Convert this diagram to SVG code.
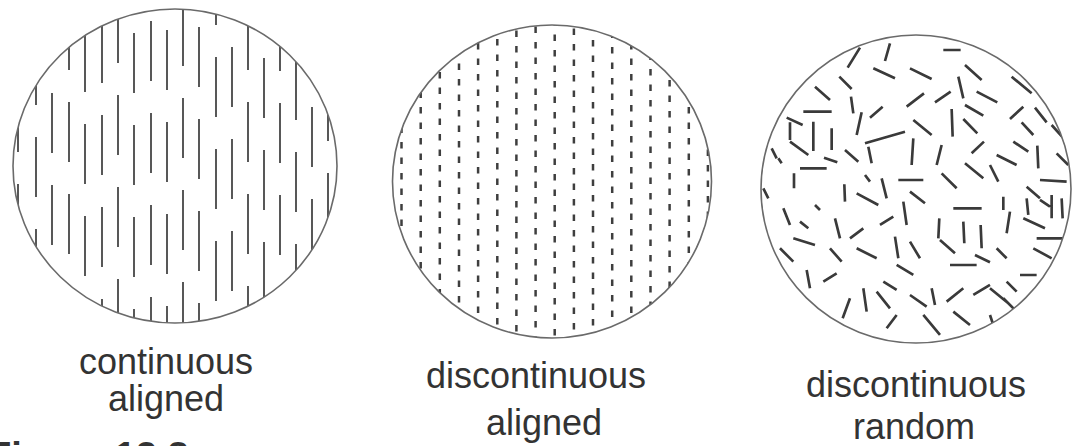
<svg xmlns="http://www.w3.org/2000/svg" width="1072" height="446" viewBox="0 0 1072 446">
<style>
.rim{fill:none;stroke:#6a6a6a;stroke-width:1.6}
.cont{fill:none;stroke:#3a3a3a;stroke-width:1.7}
.dash{fill:none;stroke:#3e3e3e;stroke-width:2.5;stroke-dasharray:6.5 9}
.rnd{fill:none;stroke:#3a3a3a;stroke-width:8;stroke-linecap:butt}
.lbl{font-family:"Liberation Sans",Arial,sans-serif;font-size:36px;fill:#333;text-anchor:middle}
.cap{font-family:"Liberation Sans",Arial,sans-serif;font-size:38px;font-weight:bold;fill:#333}
</style>
<defs>
<clipPath id="c1"><ellipse cx="175" cy="166" rx="162" ry="157"/></clipPath>
<clipPath id="c2"><ellipse cx="552" cy="181.5" rx="159.5" ry="156.5"/></clipPath>
<clipPath id="c3"><ellipse cx="916" cy="189" rx="155" ry="154"/></clipPath>
</defs>
<rect width="1072" height="446" fill="#fff"/>

<g id="continuous-aligned">
<g clip-path="url(#c1)">
<path class="cont" d="M18 0V60M18 92V152M18 184V244M18 276V336
M36 0V13M36 45V105M36 137V197M36 229V289
M52 1V61M52 93V153M52 185V245M52 277V337
M69 10V70M69 102V162M69 194V254M69 286V346
M85 32V92M85 124V184M85 216V276M85 308V368
M102 23V83M102 115V175M102 207V267M102 299V359
M118 3V63M118 95V155M118 187V247M118 279V339
M134 33V93M134 125V185M134 217V277M134 309V369
M151 21V81M151 113V173M151 205V265M151 297V357
M167 30V90M167 122V182M167 214V274M167 306V366
M183 6V66M183 98V158M183 190V250M183 282V342
M199 27V87M199 119V179M199 211V271M199 303V363
M216 0V25M216 57V117M216 149V209M216 241V301M216 333V393
M232 0V15M232 47V107M232 139V199M232 231V291M232 323V383
M248 10V70M248 102V162M248 194V254M248 286V346
M264 0V26M264 58V118M264 150V210M264 242V302
M280 11V71M280 103V163M280 195V255M280 287V347
M296 0V28M296 60V120M296 152V212M296 244V304
M312 15V75M312 107V167M312 199V259M312 291V351
M328 0V49M328 81V141M328 173V233M328 265V325"/>
</g>
<ellipse class="rim" cx="175" cy="166" rx="162" ry="157"/>
<text class="lbl" x="166" y="374">continuous</text>
<text class="lbl" x="166" y="411">aligned</text>
</g>

<g id="discontinuous-aligned">
<g clip-path="url(#c2)">
<path class="dash" d="M401.5 20V345" stroke-dashoffset="2"/>
<path class="dash" d="M420.7 20V345" stroke-dashoffset="6"/>
<path class="dash" d="M439.8 20V345" stroke-dashoffset="10"/>
<path class="dash" d="M459 20V345" stroke-dashoffset="3"/>
<path class="dash" d="M478.1 20V345" stroke-dashoffset="8"/>
<path class="dash" d="M497.3 20V345" stroke-dashoffset="12"/>
<path class="dash" d="M516.4 20V345" stroke-dashoffset="5"/>
<path class="dash" d="M535.6 20V345" stroke-dashoffset="9"/>
<path class="dash" d="M554.7 20V345" stroke-dashoffset="1"/>
<path class="dash" d="M573.9 20V345" stroke-dashoffset="7"/>
<path class="dash" d="M593 20V345" stroke-dashoffset="11"/>
<path class="dash" d="M612.2 20V345" stroke-dashoffset="4"/>
<path class="dash" d="M631.3 20V345" stroke-dashoffset="8"/>
<path class="dash" d="M650.5 20V345" stroke-dashoffset="13"/>
<path class="dash" d="M669.6 20V345" stroke-dashoffset="2"/>
<path class="dash" d="M688.8 20V345" stroke-dashoffset="6"/>
<path class="dash" d="M707.9 20V345" stroke-dashoffset="10"/>
</g>
<ellipse class="rim" cx="552" cy="181.5" rx="159.5" ry="156.5"/>
<text class="lbl" x="536" y="388">discontinuous</text>
<text class="lbl" x="544" y="435">aligned</text>
</g>

<g id="discontinuous-random">
<g clip-path="url(#c3)">
<path class="rnd" transform="translate(750,25) scale(0.3333)" d="M330 68L293 128M420 55L405 108M580 75L632 75M370 130L435 160M480 130L545 162M645 120L695 165M785 155L845 205M268 155L305 192M195 185L240 225M303 215L310 265M360 278L398 245M470 245L522 205M555 232L602 200M625 155L640 220M680 200L742 232M645 240L700 272M160 260L245 260M110 278L158 300M120 292L120 345M190 290L190 378M245 310L245 375M335 262L320 330M345 355L465 320M490 285L545 330M605 252L608 335M640 282L682 325M780 282L820 245M855 248L890 292M815 292L850 330M905 300L945 345M120 350L175 390M222 398L262 412M285 375L325 410M355 365L365 415M490 340L485 420M575 360L560 420M665 385L702 350M740 390L800 420M790 350L835 380M862 362L865 430M150 430L230 430M132 445L132 490M65 370L80 400M283 478L285 530M320 505L385 540M345 450L360 470M395 460L410 520M445 465L520 465M480 500L525 535M575 445L620 490M645 415L700 460M720 420L745 470M830 485L870 520M870 465L950 470M905 510L905 580M830 520L835 570M760 515L760 555M610 550L695 550M568 580L565 640M640 590L643 655M692 600L695 670M780 560L770 625M570 645L615 685M600 720L680 720M675 690L720 712M740 670L770 700M860 640L940 640M850 670L905 700M820 580L885 610M810 750L860 750M770 770L800 800M720 790L775 835M670 810L720 780M590 830L640 790M545 790L555 840M480 810L530 845M520 870L570 930M610 860L660 900M720 870L730 900M760 820L800 860M410 910L440 870M380 800L420 850M400 770L440 795M340 790L350 860M300 820L278 880M220 770L260 745M170 735L180 790M90 670L130 710M130 640L195 660M240 670L275 710M300 640L340 610M320 670L380 700M435 635L445 700M440 720L490 750M480 650L510 700M390 600L430 575M460 530L470 600M255 580L270 640M100 550L120 600M150 590L175 610M195 540L210 555M40 490L55 520M85 400L95 415M920 385L955 420M935 520L938 580M870 525L900 545"/>
</g>
<ellipse class="rim" cx="916" cy="189" rx="155" ry="154"/>
<text class="lbl" x="916" y="397">discontinuous</text>
<text class="lbl" x="914" y="439">random</text>
</g>

<g id="caption">
<text class="cap" x="-12" y="469">Figure 12.8</text>
</g>
</svg>
